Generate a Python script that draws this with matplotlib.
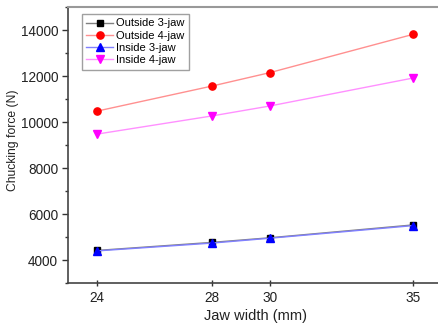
import matplotlib
matplotlib.use('Agg')
import matplotlib.pyplot as plt
from matplotlib.ticker import MultipleLocator

plt.rcParams['font.family'] = ['Liberation Sans', 'DejaVu Sans']

# Jaw width (mm)
jaw_width = [24, 28, 30, 35]

# Chucking force (N)
outside_3jaw = [4420, 4770, 4970, 5530]
outside_4jaw = [10480, 11570, 12150, 13820]
inside_3jaw = [4400, 4740, 4950, 5500]
inside_4jaw = [9480, 10270, 10700, 11920]

labels = ['Outside 3-jaw', 'Outside 4-jaw', 'Inside 3-jaw', 'Inside 4-jaw']

fig = plt.figure(figsize=(4.39, 3.25), dpi=100)
ax = fig.add_axes([0.156, 0.129, 0.851, 0.849])

ax.plot(jaw_width, outside_3jaw, color='#808080', lw=1, marker='s', ms=4.5,
        mfc='black', mec='black', label=labels[0])
ax.plot(jaw_width, outside_4jaw, color='#ff9090', lw=1, marker='o', ms=5.2,
        mfc='red', mec='red', label=labels[1])
ax.plot(jaw_width, inside_3jaw, color='#8080ff', lw=1, marker='^', ms=5.2,
        mfc='blue', mec='blue', label=labels[2])
ax.plot(jaw_width, inside_4jaw, color='#ff90ff', lw=1, marker='v', ms=5.2,
        mfc='magenta', mec='magenta', label=labels[3])

ax.set_xlim(23, 36)
ax.set_ylim(3000, 15000)
ax.set_xticks(jaw_width)
ax.yaxis.set_major_locator(MultipleLocator(2000))
ax.yaxis.set_minor_locator(MultipleLocator(1000))

ax.tick_params(axis='y', which='major', direction='out', length=4, width=1,
               labelsize=9.8, colors='#333333', labelcolor='#222222')
ax.tick_params(axis='y', which='minor', direction='out', length=2.5, width=1,
               colors='#333333')
ax.tick_params(axis='x', which='major', direction='inout', length=5, width=1,
               labelsize=9.8, colors='#333333', labelcolor='#222222', pad=3)

for side in ['left', 'bottom']:
    ax.spines[side].set_color('#444444')
    ax.spines[side].set_linewidth(1.2)
ax.spines['top'].set_color('#999999')
ax.spines['top'].set_linewidth(1.5)
ax.spines['right'].set_visible(False)

ax.set_xlabel('Jaw width (mm)', fontsize=10.5, color='#222222', labelpad=3)
ax.set_ylabel('Chucking force (N)', fontsize=8.7, color='#222222')
ax.yaxis.set_label_coords(-0.1325, 0.518)

leg = ax.legend(loc='upper left', bbox_to_anchor=(0.036, 0.975), borderaxespad=0,
                fontsize=8, frameon=True, fancybox=False, handlelength=2.4,
                handletextpad=0.3, labelspacing=0.2, borderpad=0.4)
leg.get_frame().set_edgecolor('#888888')
leg.get_frame().set_linewidth(1)

fig.savefig('out.png', dpi=100)
plt.close()
